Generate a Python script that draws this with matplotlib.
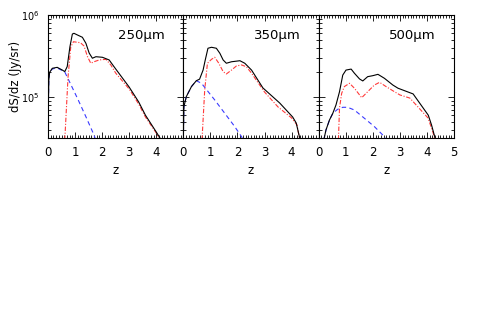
import numpy as np
import matplotlib
matplotlib.use("Agg")
import matplotlib.pyplot as plt
from matplotlib.ticker import MultipleLocator, LogLocator, NullFormatter

# values (S in Jy/sr per unit z)
bands = ["250μm", "350μm", "500μm"]

# 250 micron
z_tot_250 = [0.00, 0.01, 0.03, 0.06, 0.16, 0.34, 0.53, 0.62, 0.71, 0.81, 0.90, 0.96, 1.09, 1.27,
             1.40, 1.52, 1.64, 1.77, 2.01, 2.26, 2.44, 3.00, 3.35, 3.60, 4.00, 4.18]
s_tot_250 = [3.0e4, 6.9e4, 1.6e5, 2.0e5, 2.24e5, 2.3e5, 2.13e5, 2.04e5, 2.35e5, 4.1e5, 5.86e5, 5.98e5,
             5.7e5, 5.35e5, 4.52e5, 3.44e5, 2.97e5, 3.1e5, 3.05e5, 2.83e5, 2.34e5, 1.32e5, 8.7e4,
             6.0e4, 3.74e4, 3.0e4]
z_hi_250 = [0.62, 0.74, 0.84, 0.94, 1.20, 1.33, 1.46, 1.58, 1.70, 1.89, 2.14, 2.32, 2.50, 3.00,
            3.35, 3.60, 4.00, 4.12]
s_hi_250 = [3.0e4, 1.75e5, 4.07e5, 4.72e5, 4.59e5, 4.19e5, 3.1e5, 2.58e5, 2.69e5, 2.83e5, 2.88e5,
            2.46e5, 1.96e5, 1.25e5, 8.2e4, 5.7e4, 3.64e4, 3.0e4]
z_lo_250 = [0.00, 0.01, 0.03, 0.06, 0.16, 0.34, 0.53, 0.62, 1.09, 1.40, 1.70, 1.76]
s_lo_250 = [3.0e4, 6.9e4, 1.6e5, 2.0e5, 2.2e5, 2.26e5, 2.1e5, 2.02e5, 9.6e4, 5.75e4, 3.44e4, 3.0e4]

# 350 micron
z_tot_350 = [0.00, 0.02, 0.11, 0.30, 0.48, 0.60, 0.73, 0.81, 0.91, 1.04, 1.22, 1.35, 1.47, 1.59,
             1.78, 2.09, 2.27, 2.52, 2.94, 3.56, 4.04, 4.17, 4.30, 4.33]
s_tot_350 = [3.0e4, 7.6e4, 1.01e5, 1.34e5, 1.58e5, 1.65e5, 2.13e5, 2.83e5, 3.93e5, 4.04e5, 3.93e5,
             3.41e5, 2.83e5, 2.58e5, 2.69e5, 2.77e5, 2.58e5, 2.13e5, 1.29e5, 8.45e4, 5.7e4, 4.82e4,
             3.16e4, 2.8e4]
z_hi_350 = [0.69, 0.79, 0.89, 1.04, 1.16, 1.31, 1.47, 1.59, 1.78, 1.96, 2.15, 2.33, 2.52, 3.00,
            3.50, 4.00, 4.20, 4.30]
s_hi_350 = [3.0e4, 1.22e5, 2.58e5, 2.88e5, 3.05e5, 2.58e5, 2.04e5, 1.91e5, 2.13e5, 2.39e5, 2.46e5,
            2.34e5, 1.95e5, 1.15e5, 7.55e4, 5.55e4, 4.56e4, 3.0e4]
z_lo_350 = [0.00, 0.02, 0.11, 0.30, 0.48, 0.67, 1.16, 1.53, 1.90, 2.15, 2.22]
s_lo_350 = [3.0e4, 7.6e4, 1.01e5, 1.34e5, 1.58e5, 1.47e5, 9.2e4, 6.33e4, 4.35e4, 3.28e4, 2.9e4]

# 500 micron
z_tot_500 = [0.19, 0.27, 0.40, 0.52, 0.64, 0.77, 0.89, 1.01, 1.20, 1.32, 1.51, 1.63, 1.81, 2.00,
             2.19, 2.43, 2.74, 2.93, 3.49, 4.05, 4.17, 4.30, 4.33]
s_tot_500 = [3.0e4, 3.96e4, 5.25e4, 6.3e4, 8.0e4, 1.16e5, 1.85e5, 2.13e5, 2.19e5, 1.95e5, 1.66e5,
             1.57e5, 1.77e5, 1.82e5, 1.89e5, 1.69e5, 1.40e5, 1.28e5, 1.09e5, 6.0e4, 4.56e4, 3.16e4,
             2.8e4]
z_hi_500 = [0.73, 0.77, 0.85, 0.95, 1.14, 1.32, 1.51, 1.59, 1.81, 2.06, 2.25, 2.49, 2.80, 3.00,
            3.37, 4.04, 4.22, 4.30]
s_hi_500 = [3.0e4, 7.34e4, 1.11e5, 1.34e5, 1.47e5, 1.28e5, 1.06e5, 9.8e4, 1.16e5, 1.40e5, 1.51e5,
            1.34e5, 1.16e5, 1.06e5, 9.7e4, 5.55e4, 3.74e4, 3.0e4]
z_lo_500 = [0.19, 0.27, 0.40, 0.52, 0.70, 0.89, 1.07, 1.32, 1.69, 2.06, 2.43, 2.48]
s_lo_500 = [3.0e4, 3.96e4, 5.25e4, 6.3e4, 7.08e4, 7.49e4, 7.49e4, 6.94e4, 5.5e4, 4.35e4, 3.28e4, 3.0e4]

curves = [
    (z_tot_250, s_tot_250, z_hi_250, s_hi_250, z_lo_250, s_lo_250),
    (z_tot_350, s_tot_350, z_hi_350, s_hi_350, z_lo_350, s_lo_350),
    (z_tot_500, s_tot_500, z_hi_500, s_hi_500, z_lo_500, s_lo_500),
]

fig = plt.figure(figsize=(4.91, 3.11), dpi=100)
left, right = 48 / 491, 454 / 491
bottom, top = 1 - 138 / 311, 1 - 15 / 311
w = (right - left) / 3

for i, (zt, st, zh, sh, zl, sl) in enumerate(curves):
    ax = fig.add_axes([left + i * w, bottom, w, top - bottom])
    ax.plot(zl, sl, color="#3a3aff", lw=0.8, dashes=(4, 3))
    ax.plot(zh, sh, color="#ff3a3a", lw=0.8, dashes=(4, 1.5, 1, 1.5))
    ax.plot(zt, st, color="black", lw=0.8)
    ax.set_yscale("log")
    ax.set_xlim(0, 5)
    ax.set_ylim(10**4.5, 1e6)
    ax.xaxis.set_major_locator(MultipleLocator(1))
    ax.xaxis.set_minor_locator(MultipleLocator(0.1))
    ax.yaxis.set_major_locator(LogLocator(base=10, numticks=5))
    ax.yaxis.set_minor_locator(LogLocator(base=10, subs=np.arange(2, 10), numticks=10))
    ax.yaxis.set_minor_formatter(NullFormatter())
    ax.tick_params(which="both", direction="in", top=True, right=True, width=0.6)
    ax.tick_params(axis="x", pad=6, labelsize=8.5)
    ax.tick_params(axis="y", pad=6, labelsize=7)
    ax.tick_params(which="major", length=4)
    ax.tick_params(which="minor", length=2)
    for sp in ax.spines.values():
        sp.set_linewidth(0.8)
    if i < 2:
        ax.set_xticks([0, 1, 2, 3, 4])
    else:
        ax.set_xticks([0, 1, 2, 3, 4, 5])
    if i > 0:
        ax.tick_params(axis="y", which="both", labelleft=False)
    else:
        ax.set_ylabel("dS/dz (Jy/sr)", fontsize=8.5)
        ax.yaxis.set_label_coords(-0.19, 0.5)
    ax.set_xlabel("z", fontsize=8.5, labelpad=3)
    ax.text(2.6, 10**5.756, bands[i], fontsize=9.5, va="center", ha="left")

fig.savefig("out.png", dpi=100)
